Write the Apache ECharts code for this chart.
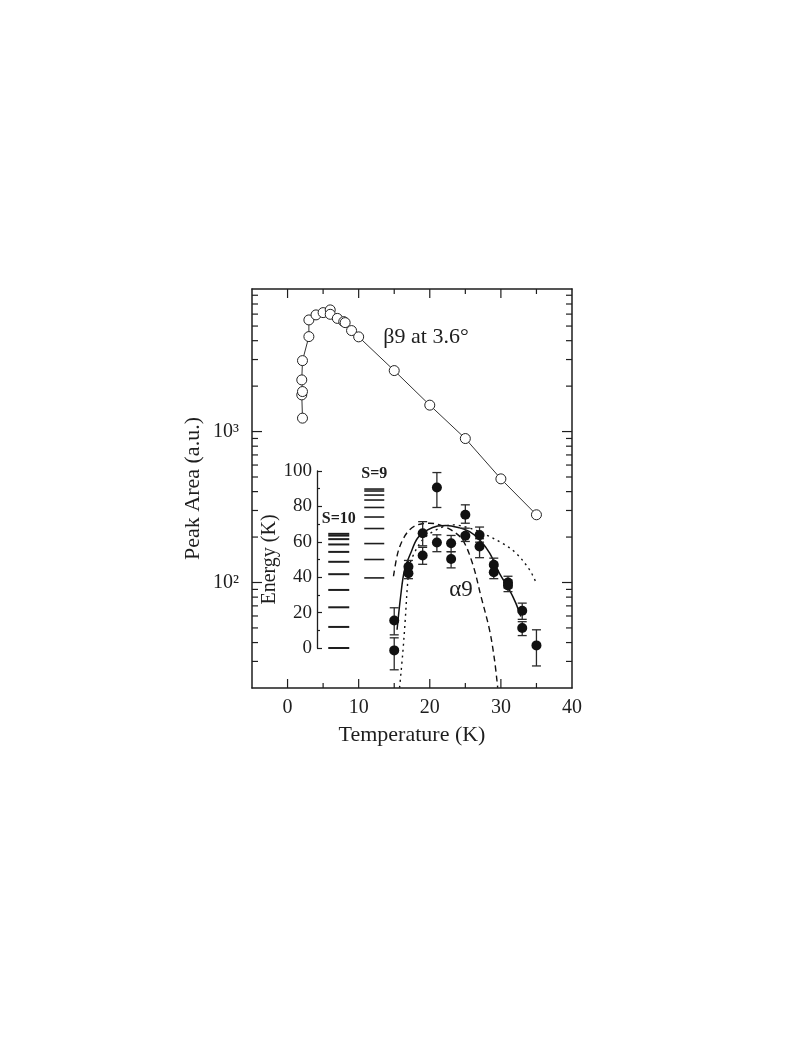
<!DOCTYPE html>
<html>
<head>
<meta charset="utf-8">
<script src="https://cdn.jsdelivr.net/npm/echarts@6/dist/echarts.min.js"></script>
<style>
  html, body { margin: 0; padding: 0; background: #fff; }
  #chart { width: 800px; height: 1038px; }
</style>
</head>
<body>
<div id="chart"></div>
<script>
// beta9 reflection at 3.6 deg (open circles)
const betaT    = [2.1, 2.0, 2.1, 2.0, 2.1, 3.0, 3.0, 4.0, 5.0, 6.0, 6.0, 7.0, 7.9, 8.1, 9.0, 10.0, 15, 20, 25, 30, 35]
const betaArea = [1227, 1750, 1841, 2199, 2951, 4258, 5490, 5928, 6138, 6397, 5982, 5620, 5350, 5270, 4667, 4240, 2535, 1496, 899, 486, 281]

// alpha9 reflection (filled circles) with error bars
const alphaT    = [15, 15, 17, 17, 19, 19, 21, 21, 23, 23, 25, 25, 27, 27, 29, 29, 31, 31, 33, 33, 35]
const alphaArea = [56, 35.5, 127, 115, 212, 151, 426, 184, 182, 143, 281, 204, 206, 173, 131, 117, 100, 95.5, 65, 50, 38.3]
const alphaLow  = [45, 26.4, 118, 106, 175, 132, 314, 160, 160, 125, 247, 187, 185, 146, 117, 106, 92, 87, 57, 44.5, 28]
const alphaHigh = [68, 43, 140, 124, 253, 171, 535, 207, 205, 160, 327, 229, 233, 195, 145, 128, 110, 104, 73, 55, 48.6]

// model curves
const solidT     = [15.4, 15.9, 16.45, 17.4, 18.3, 19.7, 21.1, 22.3, 24.2, 25.6, 27.0, 28.4, 29.8, 31.2, 32.1, 32.8]
const solidArea  = [48.6, 80.8, 121, 160, 197, 223, 237, 239, 230, 217, 192, 157, 115, 89.5, 73, 59.5]
const dashedT    = [14.9, 15.5, 16.2, 17.15, 18.3, 20.0, 21.4, 23.0, 24.6, 26.0, 27.2, 28.4, 29.1, 29.55]
const dashedArea = [110, 157, 192, 223, 241, 247, 241, 223, 192, 134, 81, 48.6, 30.8, 20.1]
const dottedT    = [15.75, 16.2, 16.55, 16.85, 17.15, 17.6, 19.0, 20.9, 23.2, 25.6, 27.9, 30.2, 32.1, 34.0, 34.9]
const dottedArea = [20.1, 34, 56.6, 94, 128, 149, 192, 223, 241, 229, 207, 182, 157, 122, 101]

// inset: energy levels (K)
const spinStates = ['S=10', 'S=9']
const s10Levels = [0, 11.9, 23, 32.8, 41.7, 48.7, 54.3, 58.5, 61.5, 63.5, 64.5]
const s9Levels  = [39.6, 50, 59, 67.5, 74, 79.4, 83.6, 86.4, 88.7, 89.8]

// frame ticks
const xMajorTicks = [0, 10, 20, 30]
const xMinorTicks = [5, 15, 25, 35]
const yMajorTicks = [100, 1000]
const yMinorTicks = [30, 40, 50, 60, 70, 80, 90, 200, 300, 400, 500, 600, 700, 800, 900,
                     2000, 3000, 4000, 5000, 6000, 7000, 8000]

const xMin = -5, xMax = 40
const yMin = 20, yMax = 8800
const FONT = '"Liberation Serif", "DejaVu Serif", serif'
const INK = '#1e1e1e'
const sup = { 2: '\u00b2', 3: '\u00b3' }

const tickSpecs = []
xMajorTicks.forEach(v => tickSpecs.push({ axis: 'x', v: v, major: true }))
xMinorTicks.forEach(v => tickSpecs.push({ axis: 'x', v: v, major: false }))
yMajorTicks.forEach(v => tickSpecs.push({ axis: 'y', v: v, major: true }))
yMinorTicks.forEach(v => tickSpecs.push({ axis: 'y', v: v, major: false }))

function renderTick(params, api) {
  const t = tickSpecs[params.dataIndex]
  const style = { stroke: INK, lineWidth: 1.2 }
  if (t.axis === 'x') {
    const len = t.major ? 9 : 5
    const b = api.coord([t.v, yMin])
    const u = api.coord([t.v, yMax])
    return { type: 'group', children: [
      { type: 'line', shape: { x1: b[0], y1: b[1], x2: b[0], y2: b[1] - len }, style: style },
      { type: 'line', shape: { x1: u[0], y1: u[1], x2: u[0], y2: u[1] + len }, style: style }
    ] }
  }
  const len = t.major ? 10 : 6
  const l = api.coord([xMin, t.v])
  const r = api.coord([xMax, t.v])
  return { type: 'group', children: [
    { type: 'line', shape: { x1: l[0], y1: l[1], x2: l[0] + len, y2: l[1] }, style: style },
    { type: 'line', shape: { x1: r[0], y1: r[1], x2: r[0] - len, y2: r[1] }, style: style }
  ] }
}

function renderErrorBar(params, api) {
  const x = api.value(0)
  const lo = api.coord([x, api.value(1)])
  const hi = api.coord([x, api.value(2)])
  const half = 4.5
  const style = { stroke: '#2a2a2a', lineWidth: 1.3 }
  return { type: 'group', children: [
    { type: 'line', shape: { x1: hi[0], y1: hi[1], x2: lo[0], y2: lo[1] }, style: style },
    { type: 'line', shape: { x1: hi[0] - half, y1: hi[1], x2: hi[0] + half, y2: hi[1] }, style: style },
    { type: 'line', shape: { x1: lo[0] - half, y1: lo[1], x2: lo[0] + half, y2: lo[1] }, style: style }
  ] }
}

function logLabel(v) {
  const e = Math.round(Math.log10(v))
  if (Math.abs(Math.log10(v) - e) > 1e-6 || !sup[e]) return ''
  return '10' + sup[e]
}

function levelData(state, levels) {
  const top = Math.max.apply(null, levels)
  return levels.map(v => {
    const item = { value: [state, v] }
    if (v === top) {
      item.label = {
        show: true, position: 'top', distance: 6, formatter: state,
        fontFamily: FONT, fontSize: 16, fontWeight: 'bold', color: INK
      }
    }
    return item
  })
}

const chart = echarts.init(document.getElementById('chart'), null, { renderer: 'canvas' })

const frameAxis = {
  axisLine: { show: true, onZero: false, lineStyle: { color: INK, width: 1.5 } },
  axisTick: { show: false },
  splitLine: { show: false }
}

const option = {
  animation: false,
  backgroundColor: '#fff',
  textStyle: { fontFamily: FONT, color: INK },
  grid: [
    { left: 252, top: 289, width: 320, height: 399 },
    { left: 321, top: 471, width: 71, height: 177 }
  ],
  xAxis: [
    Object.assign({}, frameAxis, {
      gridIndex: 0, type: 'value', min: xMin, max: xMax, interval: 5, position: 'bottom',
      axisLabel: {
        margin: 10, fontSize: 20, fontFamily: FONT, color: INK,
        formatter: v => (v % 10 === 0 ? String(v) : '')
      },
      name: 'Temperature (K)', nameLocation: 'middle', nameGap: 36,
      nameTextStyle: { fontSize: 22, fontFamily: FONT, color: INK }
    }),
    Object.assign({}, frameAxis, {
      gridIndex: 0, type: 'value', min: xMin, max: xMax, interval: 5, position: 'top',
      axisLabel: { show: false }
    }),
    { gridIndex: 1, type: 'category', data: spinStates, show: false }
  ],
  yAxis: [
    Object.assign({}, frameAxis, {
      gridIndex: 0, type: 'log', logBase: 10, min: yMin, max: yMax, position: 'left',
      axisLabel: { margin: 13, fontSize: 20, fontFamily: FONT, color: INK, formatter: logLabel },
      name: 'Peak Area (a.u.)', nameLocation: 'middle', nameRotate: 90, nameGap: 48,
      nameTextStyle: { fontSize: 22, fontFamily: FONT, color: INK }
    }),
    Object.assign({}, frameAxis, {
      gridIndex: 0, type: 'log', logBase: 10, min: yMin, max: yMax, position: 'right',
      axisLabel: { show: false }
    }),
    {
      gridIndex: 1, type: 'value', min: 0, max: 100, interval: 20, offset: 4,
      axisLine: { show: true, onZero: false, lineStyle: { color: INK, width: 1.3 } },
      axisTick: { show: true, inside: true, length: 5, lineStyle: { color: INK, width: 1.2 } },
      minorTick: { show: true, splitNumber: 2, length: 3, lineStyle: { color: INK, width: 1.2 } },
      splitLine: { show: false },
      axisLabel: { margin: 5, fontSize: 19, fontFamily: FONT, color: INK },
      name: 'Energy (K)', nameLocation: 'middle', nameRotate: 90, nameGap: 28,
      nameTextStyle: { fontSize: 20, fontFamily: FONT, color: INK }
    }
  ],
  graphic: [
    { type: 'text', x: 426, y: 337, style: { text: '\u03b29 at 3.6\u00b0', font: '22px ' + FONT, fill: INK, align: 'center', verticalAlign: 'middle' } },
    { type: 'text', x: 461, y: 590, style: { text: '\u03b19', font: '23px ' + FONT, fill: INK, align: 'center', verticalAlign: 'middle' } }
  ],
  series: [
    {
      name: 'ticks', type: 'custom', xAxisIndex: 0, yAxisIndex: 0, silent: true,
      renderItem: renderTick,
      data: tickSpecs.map(t => (t.axis === 'x' ? [t.v, yMin] : [xMin, t.v])),
      encode: { x: 0, y: 1 }, z: 5
    },
    {
      name: 'beta9', type: 'line', xAxisIndex: 0, yAxisIndex: 0,
      data: betaT.map((t, i) => [t, betaArea[i]]),
      symbol: 'circle', symbolSize: 10, showSymbol: true,
      itemStyle: { color: '#fff', borderColor: '#222', borderWidth: 1 },
      lineStyle: { color: '#333', width: 1 }, z: 3
    },
    {
      name: 'fit', type: 'line', xAxisIndex: 0, yAxisIndex: 0,
      data: solidT.map((t, i) => [t, solidArea[i]]),
      showSymbol: false, smooth: 0.35,
      lineStyle: { color: '#111', width: 1.5 }, z: 2
    },
    {
      name: 'dashed', type: 'line', xAxisIndex: 0, yAxisIndex: 0,
      data: dashedT.map((t, i) => [t, dashedArea[i]]),
      showSymbol: false, smooth: 0.35,
      lineStyle: { color: '#111', width: 1.4, type: [6, 4] }, z: 2
    },
    {
      name: 'dotted', type: 'line', xAxisIndex: 0, yAxisIndex: 0,
      data: dottedT.map((t, i) => [t, dottedArea[i]]),
      showSymbol: false, smooth: 0.35,
      lineStyle: { color: '#111', width: 1.4, type: [2, 4] }, z: 2
    },
    {
      name: 'errors', type: 'custom', xAxisIndex: 0, yAxisIndex: 0, silent: true,
      renderItem: renderErrorBar,
      data: alphaT.map((t, i) => [t, alphaLow[i], alphaHigh[i]]),
      encode: { x: 0, y: [1, 2] }, z: 3
    },
    {
      name: 'alpha9', type: 'scatter', xAxisIndex: 0, yAxisIndex: 0,
      data: alphaT.map((t, i) => [t, alphaArea[i]]),
      symbol: 'circle', symbolSize: 10,
      itemStyle: { color: '#111', opacity: 1 }, z: 4
    },
    {
      name: 'S=10', type: 'scatter', xAxisIndex: 2, yAxisIndex: 2,
      data: levelData('S=10', s10Levels),
      symbol: 'rect', symbolSize: [21, 2], itemStyle: { color: INK, opacity: 1 }
    },
    {
      name: 'S=9', type: 'scatter', xAxisIndex: 2, yAxisIndex: 2,
      data: levelData('S=9', s9Levels),
      symbol: 'rect', symbolSize: [20, 1.6], itemStyle: { color: INK, opacity: 1 }
    }
  ]
}

chart.setOption(option)
</script>
</body>
</html>
